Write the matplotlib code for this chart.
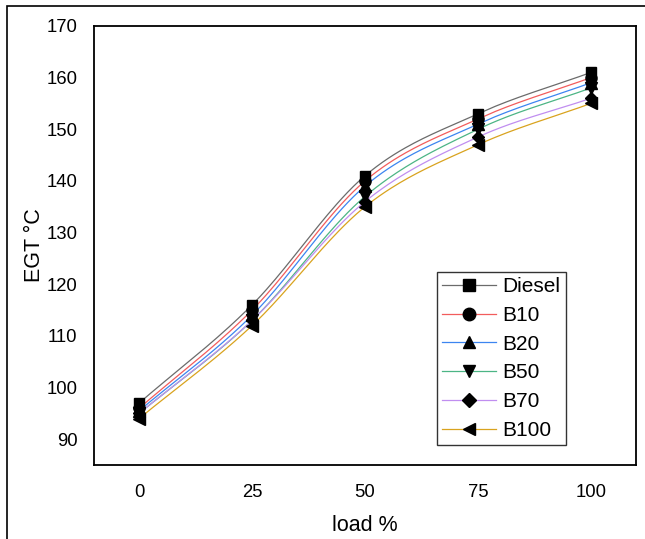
import numpy as np
import matplotlib
matplotlib.use('Agg')
import matplotlib.pyplot as plt
from matplotlib.patches import Rectangle

plt.rcParams['font.family'] = ['Liberation Sans', 'DejaVu Sans']

load = [0, 25, 50, 75, 100]
diesel = [97, 116, 141, 153, 161]
b10 = [96, 115, 140, 152, 160]
b20 = [95.5, 114, 139, 151, 159]
b50 = [95, 113, 137, 150, 158]
b70 = [95, 113, 136, 148.5, 156]
b100 = [94, 112, 135, 147, 155]

names = ['Diesel', 'B10', 'B20', 'B50', 'B70', 'B100']
series = [diesel, b10, b20, b50, b70, b100]
colors = ['#6b6b6b', '#f25c5c', '#3c85f0', '#4cb585', '#c08ef0', '#d9a31e']
markers = ['s', 'o', '^', 'v', 'D', '<']
msizes = [7, 8, 8, 8, 6.5, 8]


def smooth(x, y, n=40):
    # catmull-rom style curve through the points (like excel smoothed lines)
    x = np.asarray(x, float)
    y = np.asarray(y, float)
    px = np.concatenate([[2 * x[0] - x[1]], x, [2 * x[-1] - x[-2]]])
    py = np.concatenate([[2 * y[0] - y[1]], y, [2 * y[-1] - y[-2]]])
    xs, ys = [], []
    t = np.linspace(0, 1, n)
    for i in range(1, len(px) - 2):
        for p, out in ((px, xs), (py, ys)):
            p0, p1, p2, p3 = p[i - 1], p[i], p[i + 1], p[i + 2]
            out.extend(0.5 * ((2 * p1) + (-p0 + p2) * t
                              + (2 * p0 - 5 * p1 + 4 * p2 - p3) * t ** 2
                              + (-p0 + 3 * p1 - 3 * p2 + p3) * t ** 3))
    return xs, ys


fig = plt.figure(figsize=(6.45, 5.39), dpi=100)
ax = fig.add_axes([94 / 645, 1 - 465 / 539, (636 - 94) / 645, (465 - 26) / 539])

fig.patches.append(Rectangle((7 / 645, -0.1), 1.2, 1 - 6 / 539 + 0.1,
                             transform=fig.transFigure, fill=False,
                             edgecolor='black', linewidth=1.2))

for name, vals, c, m, ms in zip(names, series, colors, markers, msizes):
    sx, sy = smooth(load, vals)
    ax.plot(sx, sy, color=c, linewidth=0.9, zorder=2)
    ax.plot(load, vals, linestyle='none', marker=m, color='black',
            markersize=ms, zorder=3)
    ax.plot([], [], color=c, linewidth=0.9, marker=m, markerfacecolor='black',
            markeredgecolor='black', markersize=ms + 1, label=name)

ax.set_xlim(-10, 110)
ax.set_ylim(85, 170)
ax.set_xticks(load)
ax.set_yticks(range(90, 171, 10))
ax.tick_params(length=0, labelsize=13.3, pad=14)
ax.tick_params(axis='y', pad=12)
for s in ax.spines.values():
    s.set_linewidth(1.3)

ax.set_xlabel('load %', fontsize=15.5, labelpad=10)
ax.set_ylabel('EGT \u00b0C', fontsize=15.5, labelpad=1)

leg = ax.legend(loc='lower right', bbox_to_anchor=(0.87, 0.045), fontsize=15,
                frameon=True, fancybox=False, edgecolor='black',
                handlelength=2.6, labelspacing=0.47, borderpad=0.25,
                handletextpad=0.3, borderaxespad=0)
leg.get_frame().set_linewidth(1.0)

fig.savefig('out.png', dpi=100)
